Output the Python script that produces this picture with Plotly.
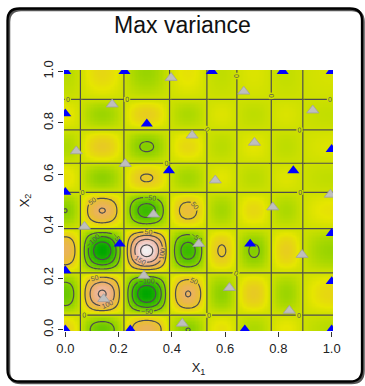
import colorsys
import numpy as np
import plotly.graph_objects as go

# ---------------- data ----------------
# The surface looks like a product g(x1)*g(x2); zero lines (the "0" contours) at:
zero_crossings = [0.057, 0.220, 0.391, 0.531, 0.644, 0.773, 0.891]
# signed peak value of g in each lobe between zero crossings (edges included)
lobe_peaks = [6.2, -12.5, 14.8, -8.2, 3.7, -3.8, 2.9, -2.6]

contour_start, contour_end, contour_step = -200, 200, 50

blue_x1 = [0.0, 0.222, 0.55, 0.816, 1.0, 0.0, 0.306, 1.0, 0.389, 0.856,
           0.0, 1.0, 0.204, 0.694, 0.0, 1.0, 0.0, 0.244, 0.674, 1.0]
blue_x2 = [1.0, 1.0, 1.0, 1.0, 1.0, 0.836, 0.797, 0.698, 0.616, 0.616,
           0.532, 0.373, 0.332, 0.332, 0.229, 0.187, 0.0, 0.0, 0.0, 0.0]

gray_x1 = [0.397, 0.670, 0.176, 0.929, 0.476, 0.041, 0.710, 0.225, 0.563, 0.995,
           0.779, 0.331, 0.072, 0.501, 0.889, 0.295, 0.616, 0.144, 0.841, 0.439]
gray_x2 = [0.975, 0.922, 0.872, 0.849, 0.752, 0.691, 0.724, 0.642, 0.578, 0.523,
           0.474, 0.446, 0.399, 0.332, 0.290, 0.209, 0.162, 0.119, 0.074, 0.024]

tick_vals = [0.0, 0.2, 0.4, 0.6, 0.8, 1.0]
tick_text = ["0.0", "0.2", "0.4", "0.6", "0.8", "1.0"]

# ---------------- build the surface from the read values ----------------
def g(x):
    x = np.asarray(x, dtype=float)
    out = np.zeros_like(x)
    z = zero_crossings
    m = x <= z[0]
    out[m] = lobe_peaks[0] * np.sin(np.pi / 2 * (z[0] - x[m]) / z[0])
    for i in range(len(z) - 1):
        m = (x > z[i]) & (x <= z[i + 1])
        out[m] = lobe_peaks[i + 1] * np.sin(np.pi * (x[m] - z[i]) / (z[i + 1] - z[i]))
    m = x > z[-1]
    w = 1.0 - z[-1]
    out[m] = lobe_peaks[-1] * np.sin(np.pi / 2 * (x[m] - z[-1]) / w)
    return out

grid = np.linspace(-0.005, 1.005, 203)
gx = g(grid)
Z = np.outer(gx, gx)  # rows = x2, cols = x1

# R terrain.colors style scale
def terrain(t):
    if t <= 0.5:
        u = t / 0.5
        h = 4 / 12 + (2 / 12 - 4 / 12) * u
        s = 1.0
        v = 0.65 + (0.9 - 0.65) * u
    else:
        u = (t - 0.5) / 0.5
        h = 2 / 12 + (0 - 2 / 12) * u
        s = 1.0 - u
        v = 0.9 + (0.95 - 0.9) * u
    r, gg, b = colorsys.hsv_to_rgb(h, s, v)
    return "rgb(%d,%d,%d)" % (round(r * 255), round(gg * 255), round(b * 255))

cscale = [[i / 40, terrain(i / 40)] for i in range(41)]

fig = go.Figure()
fig.add_trace(go.Heatmap(
    x=grid, y=grid, z=Z, colorscale=cscale,
    zmin=float(Z.min()), zmax=float(Z.max()),
    showscale=False, hoverinfo="skip"))
fig.add_trace(go.Contour(
    x=grid, y=grid, z=Z, showscale=False, hoverinfo="skip",
    contours=dict(coloring="none", showlabels=True,
                  start=contour_start, end=contour_end, size=contour_step,
                  labelfont=dict(size=7, color="#555555", family="Liberation Sans")),
    line=dict(color="#4d4d4d", width=1.2)))
fig.add_trace(go.Scatter(
    x=blue_x1, y=blue_x2, mode="markers",
    marker=dict(symbol="triangle-up", size=10.5, color="#0000ff", line=dict(width=0)),
    hoverinfo="skip"))
fig.add_trace(go.Scatter(
    x=gray_x1, y=gray_x2, mode="markers",
    marker=dict(symbol="triangle-up", size=10.5, color="#bebebe",
                line=dict(width=0.8, color="#a0a0a0")),
    hoverinfo="skip"))

W, H = 365, 386
L, R, T, B = 64, 32, 70, 55
pw, ph = W - L - R, H - T - B

def px(xp):
    return (xp - L) / pw

def py(yp):
    return (H - B - yp) / ph

def rounded(x0, y0, x1, y1, rad):
    return (f"M {px(x0 + rad)} {py(y0)} L {px(x1 - rad)} {py(y0)} "
            f"Q {px(x1)} {py(y0)} {px(x1)} {py(y0 + rad)} L {px(x1)} {py(y1 - rad)} "
            f"Q {px(x1)} {py(y1)} {px(x1 - rad)} {py(y1)} L {px(x0 + rad)} {py(y1)} "
            f"Q {px(x0)} {py(y1)} {px(x0)} {py(y1 - rad)} L {px(x0)} {py(y0 + rad)} "
            f"Q {px(x0)} {py(y0)} {px(x0 + rad)} {py(y0)} Z")

# soft drop shadow, then the black frame
fig.add_shape(type="path", path=rounded(9, 10, 363.5, 383, 12), xref="paper", yref="paper",
              line=dict(color="#555555", width=2.5), layer="above")
fig.add_shape(type="path", path=rounded(7.5, 8.5, 362, 381.5, 12), xref="paper", yref="paper",
              line=dict(color="black", width=2.3), layer="above")

axis_common = dict(
    range=[-0.005, 1.005], tickvals=tick_vals, ticktext=tick_text,
    ticks="outside", ticklen=5, tickwidth=1, tickcolor="#333333",
    showgrid=False, zeroline=False, showline=False,
    tickfont=dict(family="Liberation Sans", size=13, color="#222222"),
    fixedrange=True,
)

fig.update_layout(
    width=W, height=H, autosize=False,
    margin=dict(l=L, r=R, t=T, b=B),
    paper_bgcolor="white", plot_bgcolor="white",
    showlegend=False,
    title=dict(text="Max variance", x=0.5, xanchor="center",
               y=1 - 25 / H, yanchor="middle", yref="container",
               font=dict(family="Liberation Sans", size=23, color="#111111")),
    xaxis=dict(**axis_common,
               title=dict(text="X<sub>1</sub>", standoff=8,
                          font=dict(family="Liberation Sans", size=13, color="#222222"))),
    yaxis=dict(**axis_common, tickangle=-90,
               title=dict(text="X<sub>2</sub>", standoff=8,
                          font=dict(family="Liberation Sans", size=13, color="#222222"))),
)

fig.write_html(
    "out.html",
    config={"displayModeBar": False, "staticPlot": True},
    post_script="document.body.style.margin='0';document.body.style.overflow='hidden';",
)
